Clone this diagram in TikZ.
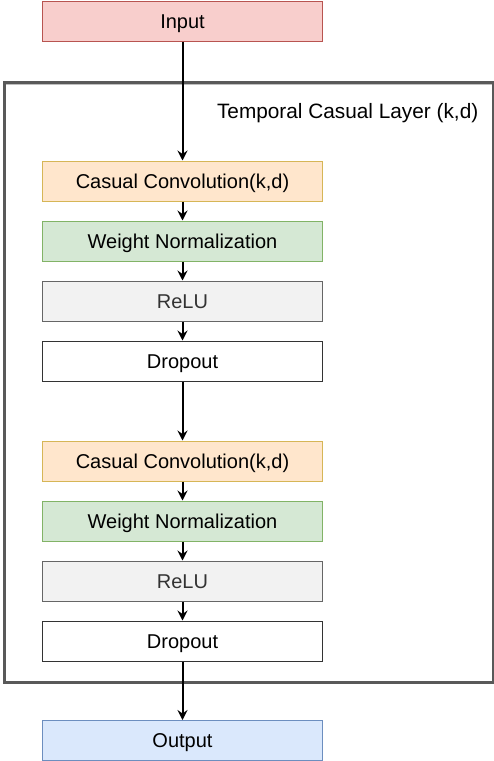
\documentclass[tikz,border=0pt]{standalone}
\usepackage{fontspec}
\setmainfont{Liberation Sans}
\usetikzlibrary{arrows.meta}
\definecolor{redF}{HTML}{F8CECC}\definecolor{redD}{HTML}{B85450}
\definecolor{orgF}{HTML}{FFE6CC}\definecolor{orgD}{HTML}{D6B656}
\definecolor{grnF}{HTML}{D5E8D4}\definecolor{grnD}{HTML}{82B366}
\definecolor{gryF}{HTML}{F2F2F2}\definecolor{gryD}{HTML}{666666}
\definecolor{bluF}{HTML}{DAE8FC}\definecolor{bluD}{HTML}{6C8EBF}
\definecolor{frameC}{HTML}{595959}
\definecolor{txtG}{HTML}{333333}
\tikzset{
  blk/.style={draw, line width=1pt, minimum width=280pt, minimum height=40pt, inner sep=0pt, anchor=north west, font=\fontsize{20}{24}\selectfont, text height=16pt, text depth=2pt},
  redbox/.style={blk, fill=redF, draw=redD},
  orgbox/.style={blk, fill=orgF, draw=orgD},
  grnbox/.style={blk, fill=grnF, draw=grnD},
  grybox/.style={blk, fill=gryF, draw=gryD, text=txtG},
  whtbox/.style={blk, fill=white, draw=black!80},
  blubox/.style={blk, fill=bluF, draw=bluD},
  arr/.style={line width=2pt, -{Stealth[length=10pt,width=10pt,inset=3.5pt]}},
}
\begin{document}
\begin{tikzpicture}[x=1pt,y=-1pt]
\useasboundingbox (0,0) rectangle (494,761);
\fill[white] (0,0) rectangle (494,761);
% outer frame
\draw[black!25, line width=3pt] (4.5,83) rectangle (493,682.5);
\node[draw=frameC, line width=3pt, minimum width=489pt, minimum height=599.5pt, anchor=north west, inner sep=0pt] (frame) at (2.5,81) {};
\node[anchor=base east, font=\fontsize{20.8}{24}\selectfont, inner sep=0pt] (title) at (478.5,118.3) {Temporal Casual Layer (k,d)};
\node[redbox] (in) at (42,0.5) {Input};
\node[orgbox] (c1) at (42,160.5) {Casual Convolution(k,d)};
\node[grnbox] (w1) at (42,220.5) {Weight Normalization};
\node[grybox] (r1) at (42,280.5) {ReLU};
\node[whtbox] (d1) at (42,340.5) {Dropout};
\node[orgbox] (c2) at (42,440.5) {Casual Convolution(k,d)};
\node[grnbox] (w2) at (42,500.5) {Weight Normalization};
\node[grybox] (r2) at (42,560.5) {ReLU};
\node[whtbox] (d2) at (42,620.5) {Dropout};
\node[blubox] (out) at (42,720) {Output};
\draw[arr] (in) -- (c1);
\draw[arr] (c1) -- (w1);
\draw[arr] (w1) -- (r1);
\draw[arr] (r1) -- (d1);
\draw[arr] (d1) -- (c2);
\draw[arr] (c2) -- (w2);
\draw[arr] (w2) -- (r2);
\draw[arr] (r2) -- (d2);
\draw[arr] (d2) -- (out);
\end{tikzpicture}
\end{document}
